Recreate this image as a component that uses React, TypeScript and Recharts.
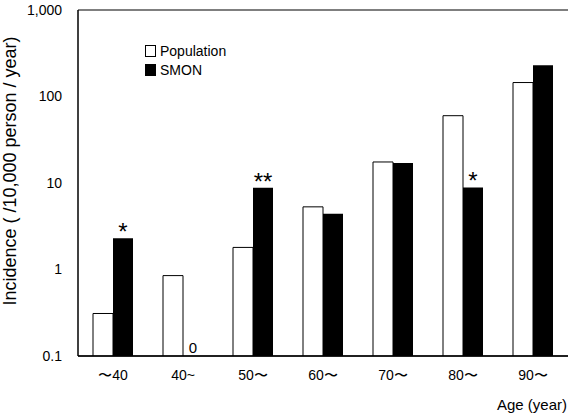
import { Bar, BarChart, CartesianGrid, LabelList, ReferenceDot, XAxis, YAxis } from "recharts";

// age groups and incidence per 10,000 person-years (log axis)
const ageGroups = ["〜40", "40~", "50〜", "60〜", "70〜", "80〜", "90〜"];
const population = [0.31, 0.85, 1.8, 5.3, 17.5, 60, 145];
const smon = [2.3, 0, 8.8, 4.4, 17, 8.9, 230];
const smonMarks = ["*", "", "**", "", "", "*", ""];
const yTicks = [0.1, 1, 10, 100, 1000];

const FLOOR = 0.1;
const font = "'Liberation Sans', Arial, sans-serif";

const data = ageGroups.map((age, i) => ({
  age,
  population: population[i],
  // zero can't sit on a log axis
  smon: smon[i] > 0 ? smon[i] : null,
  mark: smonMarks[i],
}));

const zeroGroups = ageGroups.filter((_, i) => smon[i] === 0);

const fmtTick = (v: number) => (v >= 1000 ? v.toLocaleString("en-US") : String(v));

function LegendBox() {
  const row = (fill: string, label: string) => (
    <div style={{ display: "flex", alignItems: "center", height: 19 }}>
      <span
        style={{
          display: "inline-block",
          width: 9,
          height: 10,
          background: fill,
          border: "1px solid #000",
          marginRight: 4,
        }}
      />
      <span>{label}</span>
    </div>
  );
  return (
    <div
      style={{
        position: "absolute",
        left: 145,
        top: 41,
        fontFamily: font,
        fontSize: 14,
        color: "#000",
      }}
    >
      {row("#fff", "Population")}
      {row("#000", "SMON")}
    </div>
  );
}

export default function App() {
  return (
    <div style={{ position: "absolute", left: 0, top: 0, background: "#fff" }}>
      <BarChart
        width={585}
        height={417}
        data={data}
        margin={{ top: 10, right: 17, bottom: 31, left: 0 }}
        barGap={0}
        barSize={20}
      >
        <CartesianGrid horizontal vertical={false} stroke="#000" strokeWidth={1.2} />
        <XAxis
          dataKey="age"
          axisLine={{ stroke: "#000", strokeWidth: 1.5 }}
          tickLine={false}
          tickMargin={8}
          tick={{ fill: "#000", fontSize: 14, fontFamily: font }}
          interval={0}
        />
        <YAxis
          yAxisId="left"
          scale="log"
          domain={[0.1, 1000]}
          ticks={yTicks}
          allowDataOverflow
          width={78}
          axisLine={{ stroke: "#000", strokeWidth: 1.5 }}
          tickLine={false}
          tickMargin={10}
          tickFormatter={fmtTick}
          tick={{ fill: "#000", fontSize: 14, fontFamily: font }}
          label={{
            value: "Incidence ( /10,000 person / year)",
            angle: -90,
            position: "insideLeft",
            offset: 10,
            dy: -12,
            style: { fill: "#000", fontSize: 18, fontFamily: font, textAnchor: "middle" },
          }}
        />
        <YAxis
          yAxisId="right"
          orientation="right"
          width={0}
          tick={false}
          tickLine={false}
          axisLine={{ stroke: "#000", strokeWidth: 1.2 }}
        />
        <Bar
          yAxisId="left"
          dataKey="population"
          fill="#fff"
          stroke="#000"
          strokeWidth={1}
          isAnimationActive={false}
        />
        <Bar yAxisId="left" dataKey="smon" fill="#000" isAnimationActive={false}>
          <LabelList
            dataKey="mark"
            position="top"
            offset={-2}
            style={{ fill: "#000", fontSize: 24, fontFamily: font }}
          />
        </Bar>
        {zeroGroups.map((g) => (
          <ReferenceDot
            key={g}
            yAxisId="left"
            x={g}
            y={FLOOR}
            r={0}
            ifOverflow="visible"
            label={{
              value: "0",
              position: "top",
              dx: 10,
              offset: 3,
              style: { fill: "#000", fontSize: 15, fontFamily: font },
            }}
          />
        ))}
        <text x={567} y={410} textAnchor="end" fontSize={15} fontFamily={font} fill="#000">
          Age (year)
        </text>
      </BarChart>
      <LegendBox />
    </div>
  );
}
